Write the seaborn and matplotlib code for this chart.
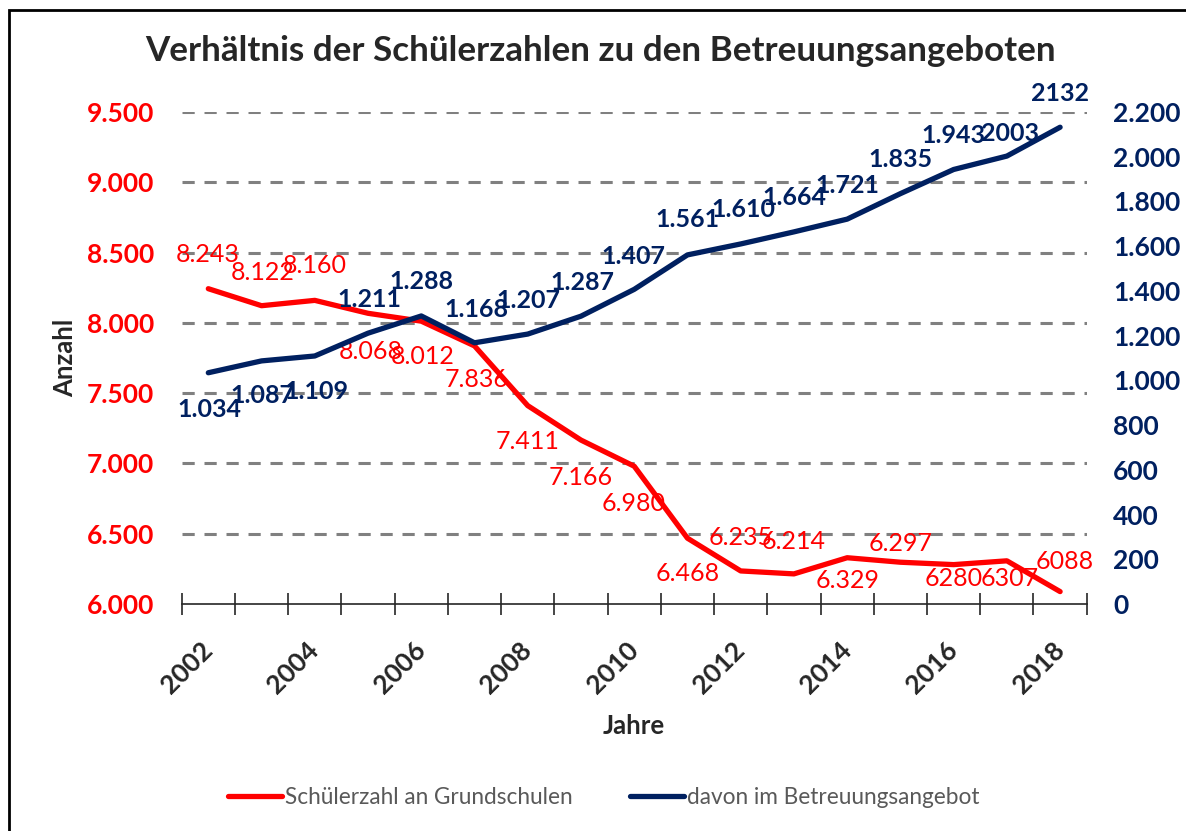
import numpy as np
import pandas as pd
import matplotlib
matplotlib.use("Agg")
import matplotlib.pyplot as plt
import seaborn as sns
from matplotlib.ticker import FuncFormatter, FixedLocator

years = list(range(2002, 2019))
schueler = [8243, 8122, 8160, 8068, 8012, 7836, 7411, 7166, 6980, 6468,
            6235, 6214, 6329, 6297, 6280, 6307, 6088]
betreuung = [1034, 1087, 1109, 1211, 1288, 1168, 1207, 1287, 1407, 1561,
             1610, 1664, 1721, 1835, 1943, 2003, 2132]
schueler_labels = ["8.243", "8.122", "8.160", "8.068", "8.012", "7.836", "7.411",
                   "7.166", "6.980", "6.468", "6.235", "6.214", "6.329", "6.297",
                   "6280", "6307", "6088"]
betreuung_labels = ["1.034", "1.087", "1.109", "1.211", "1.288", "1.168", "1.207",
                    "1.287", "1.407", "1.561", "1.610", "1.664", "1.721", "1.835",
                    "1.943", "2003", "2132"]

# label offsets in pixels (dx, dy), like excel's above/below placement
red_off = [(-1, 34), (1, 33), (0, 35), (3, -38), (1, -35), (2, -34), (0, -36),
           (0, -37), (-1, -37), (0, -35), (0, 33), (0, 32), (0, -23), (0, 19),
           (0, -14), (3, -18), (5, 30)]
blue_off = [(1, -37), (1, -35), (2, -36), (1, 34), (0, 34), (2, 33), (1, 34),
            (1, 34), (-1, 33), (0, 35), (3, 34), (0, 34), (0, 34), (0, 34),
            (0, 34), (3, 23), (0, 34)]

RED = "#FF0000"
NAVY = "#002060"

df = pd.DataFrame({"Jahr": years, "Schueler": schueler, "Betreuung": betreuung})

sns.set_style("white")
plt.rcParams["font.family"] = ["Lato", "DejaVu Sans"]

fig = plt.figure(figsize=(11.86, 8.31), dpi=100)
ax = fig.add_axes([0.1532, 0.2732, 0.7631, 0.592])
ax2 = ax.twinx()

sns.lineplot(data=df, x="Jahr", y="Schueler", ax=ax, color=RED, lw=3.8,
             label="Schülerzahl an Grundschulen", legend=False)
sns.lineplot(data=df, x="Jahr", y="Betreuung", ax=ax2, color=NAVY, lw=3.8,
             label="davon im Betreuungsangebot", legend=False)

ax.set_xlim(2001.5, 2018.5)
ax.set_ylim(6000, 9500)
ax2.set_ylim(0, 2200)

dot_fmt = FuncFormatter(lambda v, p: f"{int(v):,}".replace(",", "."))
ax.set_yticks(np.arange(6000, 9501, 500))
ax.yaxis.set_major_formatter(dot_fmt)
ax2.set_yticks(np.arange(0, 2201, 200))
ax2.yaxis.set_major_formatter(dot_fmt)

for a in (ax, ax2):
    for s in a.spines.values():
        s.set_visible(False)
ax.spines["bottom"].set_visible(True)
ax.spines["bottom"].set_color("#262626")
ax.spines["bottom"].set_linewidth(1.2)

ax.grid(False)
ax2.grid(False)
for yv in np.arange(6500, 9501, 500):
    ax.axhline(yv, color="#808080", lw=2.2, ls=(0, (4, 3.2)), zorder=0)

ax.tick_params(axis="y", length=0, pad=20, labelsize=19, labelcolor=RED)
ax2.tick_params(axis="y", length=0, pad=19, labelsize=19, labelcolor=NAVY)
for t in ax.get_yticklabels():
    t.set_fontweight("bold")
for t in ax2.get_yticklabels():
    t.set_fontweight("bold")

# ticks between categories, labels on every second year
ax.set_xticks([y for y in years if y % 2 == 0])
ax.xaxis.set_minor_locator(FixedLocator(np.arange(2001.5, 2019, 1.0)))
ax.tick_params(axis="x", which="major", length=0, pad=30, labelsize=19)
ax.tick_params(axis="x", which="minor", bottom=True, length=16, width=1.2,
               direction="inout", color="#262626")
for t in ax.get_xticklabels():
    t.set_rotation(45)
    t.set_ha("right")
    t.set_va("center")
    t.set_rotation_mode("anchor")
    t.set_fontweight("bold")

ax.set_xlabel("Jahre", fontsize=18.5, fontweight="bold", labelpad=12)
ax.set_ylabel("Anzahl", fontsize=18.5, fontweight="bold", labelpad=7)
ax2.set_ylabel("")

for x, y, s, (dx, dy) in zip(years, schueler, schueler_labels, red_off):
    ax.annotate(s, (x, y), xytext=(dx, dy), textcoords="offset pixels",
                ha="center", va="center", color=RED, fontsize=18)
for x, y, s, (dx, dy) in zip(years, betreuung, betreuung_labels, blue_off):
    ax2.annotate(s, (x, y), xytext=(dx, dy), textcoords="offset pixels",
                 ha="center", va="center", color=NAVY, fontsize=18,
                 fontweight="bold")

fig.suptitle("Verhältnis der Schülerzahlen zu den Betreuungsangeboten",
             x=0.506, y=0.958, fontsize=25.2, fontweight="bold")

h1, l1 = ax.get_legend_handles_labels()
h2, l2 = ax2.get_legend_handles_labels()
fig.legend(h1 + h2, l1 + l2, loc="center", bbox_to_anchor=(0.509, 0.04),
           ncol=2, frameon=False, fontsize=16.3, labelcolor="#595959",
           handlelength=2.4, handletextpad=0.1, columnspacing=2.55)

fig.patches.append(plt.Rectangle((9 / 1186, -0.1), 1.2, (831 - 10) / 831 + 0.1,
                                 transform=fig.transFigure, fill=False,
                                 lw=2, edgecolor="black"))

fig.savefig("out.png", dpi=100)
